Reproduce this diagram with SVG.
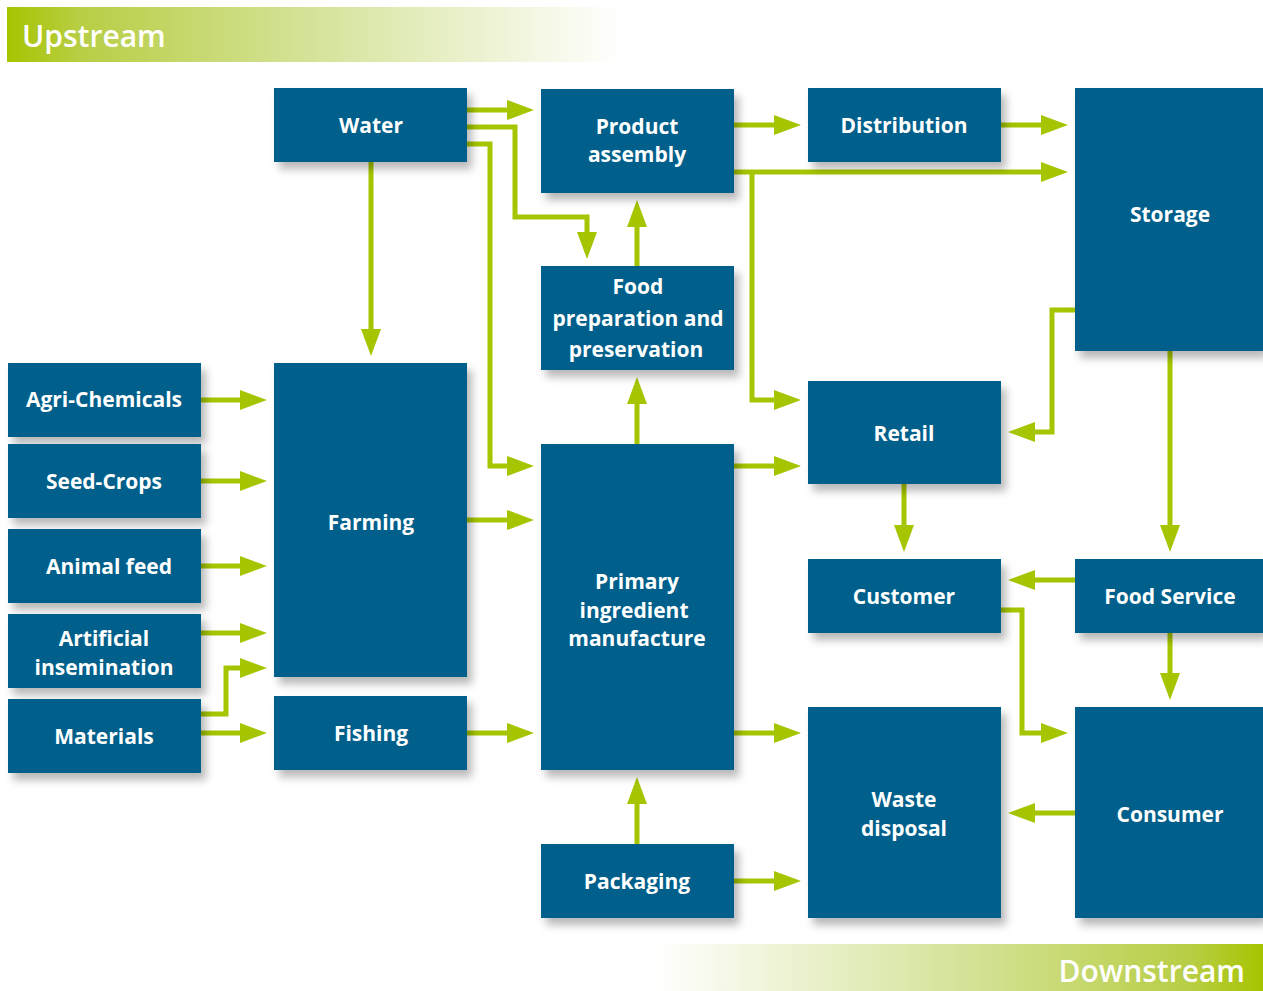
<svg xmlns="http://www.w3.org/2000/svg" width="1263" height="991" viewBox="0 0 1263 991">
<defs>
  <linearGradient id="gUp" x1="0" y1="0" x2="1" y2="0">
    <stop offset="0" stop-color="#A7C400"/>
    <stop offset="0.12" stop-color="#B8CE45"/>
    <stop offset="0.5" stop-color="#D5E39A"/>
    <stop offset="1" stop-color="#FFFFFF"/>
  </linearGradient>
  <linearGradient id="gDown" x1="1" y1="0" x2="0" y2="0">
    <stop offset="0" stop-color="#A7C400"/>
    <stop offset="0.12" stop-color="#B8CE45"/>
    <stop offset="0.5" stop-color="#D5E39A"/>
    <stop offset="1" stop-color="#FFFFFF"/>
  </linearGradient>
  <filter id="sh" x="-20%" y="-20%" width="150%" height="150%">
    <feDropShadow dx="5" dy="7" stdDeviation="4" flood-color="#000" flood-opacity="0.28"/>
  </filter>
  <marker id="ah" markerUnits="userSpaceOnUse" viewBox="0 0 27 20" refX="0" refY="10" markerWidth="27" markerHeight="20" orient="auto">
    <path d="M0,0 L27,10 L0,20 z" fill="#A6C500"/>
  </marker>
</defs>
<style>
  .box { fill:#00608B; filter:url(#sh); }
  .t { fill:#FFFFFF; font-family:"Open Sans","Noto Sans","DejaVu Sans",sans-serif; font-weight:700; font-size:21px; text-anchor:middle; dominant-baseline:central; }
  .ban { fill:#FFFFFF; font-family:"Open Sans","Noto Sans","DejaVu Sans",sans-serif; font-weight:600; font-size:30px; }
  .c { fill:none; stroke:#A6C500; stroke-width:5; marker-end:url(#ah); }
</style>
<g id="banners">
  <rect x="7" y="7" width="614" height="55" fill="url(#gUp)"/>
  <text class="ban" x="22" y="47">Upstream</text>
  <rect x="655" y="944" width="608" height="47" fill="url(#gDown)"/>
  <text class="ban" x="1245" y="982" text-anchor="end">Downstream</text>
</g>
<g id="connectors">
  <path class="c" d="M467,110 H507"/>
  <path class="c" d="M467,127 H515 V217 H587 V232"/>
  <path class="c" d="M467,144 H490 V466 H507"/>
  <path class="c" d="M371,162 V329"/>
  <path class="c" d="M734,125 H774"/>
  <path class="c" d="M1001,125 H1041"/>
  <path class="c" d="M734,172 H1041"/>
  <path class="c" d="M752,172 V400 H774"/>
  <path class="c" d="M637,266 V227"/>
  <path class="c" d="M637,444 V404"/>
  <path class="c" d="M1075,310 H1052 V432 H1035"/>
  <path class="c" d="M1170,351 V525"/>
  <path class="c" d="M734,466 H774"/>
  <path class="c" d="M904,484 V525"/>
  <path class="c" d="M1075,580 H1035"/>
  <path class="c" d="M1001,610 H1022 V733 H1041"/>
  <path class="c" d="M1170,633 V673"/>
  <path class="c" d="M1075,813 H1035"/>
  <path class="c" d="M734,733 H774"/>
  <path class="c" d="M734,881 H774"/>
  <path class="c" d="M637,844 V804"/>
  <path class="c" d="M467,520 H507"/>
  <path class="c" d="M467,733 H507"/>
  <path class="c" d="M201,400 H240"/>
  <path class="c" d="M201,481 H240"/>
  <path class="c" d="M201,566 H240"/>
  <path class="c" d="M201,633 H240"/>
  <path class="c" d="M201,714 H226 V668 H240"/>
  <path class="c" d="M201,733 H240"/>
</g>
<g id="water"><rect class="box" x="274" y="88" width="193" height="74"/><text class="t" x="371" y="125">Water</text></g>
<g id="product-assembly"><rect class="box" x="541" y="89" width="193" height="104"/><text class="t" x="637" y="126">Product</text><text class="t" x="637" y="154">assembly</text></g>
<g id="distribution"><rect class="box" x="808" y="88" width="193" height="74"/><text class="t" x="904" y="125">Distribution</text></g>
<g id="storage"><rect class="box" x="1075" y="88" width="188" height="263"/><text class="t" x="1170" y="214">Storage</text></g>
<g id="food-prep"><rect class="box" x="541" y="266" width="193" height="104"/><text class="t" x="638" y="286">Food</text><text class="t" x="638" y="318">preparation and</text><text class="t" x="636" y="349">preservation</text></g>
<g id="agri-chemicals"><rect class="box" x="8" y="363" width="193" height="74"/><text class="t" x="104" y="399">Agri-Chemicals</text></g>
<g id="seed-crops"><rect class="box" x="8" y="444" width="193" height="74"/><text class="t" x="104" y="481">Seed-Crops</text></g>
<g id="animal-feed"><rect class="box" x="8" y="529" width="193" height="74"/><text class="t" x="109" y="566">Animal feed</text></g>
<g id="artificial-insemination"><rect class="box" x="8" y="614" width="193" height="74"/><text class="t" x="104" y="638">Artificial</text><text class="t" x="104" y="667">insemination</text></g>
<g id="materials"><rect class="box" x="8" y="699" width="193" height="74"/><text class="t" x="104" y="736">Materials</text></g>
<g id="farming"><rect class="box" x="274" y="363" width="193" height="314"/><text class="t" x="371" y="522">Farming</text></g>
<g id="fishing"><rect class="box" x="274" y="696" width="193" height="74"/><text class="t" x="371" y="733">Fishing</text></g>
<g id="primary"><rect class="box" x="541" y="444" width="193" height="326"/><text class="t" x="637" y="581">Primary</text><text class="t" x="634" y="610">ingredient</text><text class="t" x="637" y="638">manufacture</text></g>
<g id="packaging"><rect class="box" x="541" y="844" width="193" height="74"/><text class="t" x="637" y="881">Packaging</text></g>
<g id="retail"><rect class="box" x="808" y="381" width="193" height="103"/><text class="t" x="904" y="433">Retail</text></g>
<g id="customer"><rect class="box" x="808" y="559" width="193" height="74"/><text class="t" x="904" y="596">Customer</text></g>
<g id="food-service"><rect class="box" x="1075" y="559" width="188" height="74"/><text class="t" x="1170" y="596">Food Service</text></g>
<g id="waste-disposal"><rect class="box" x="808" y="707" width="193" height="211"/><text class="t" x="904" y="799">Waste</text><text class="t" x="904" y="828">disposal</text></g>
<g id="consumer"><rect class="box" x="1075" y="707" width="188" height="211"/><text class="t" x="1170" y="814">Consumer</text></g>
</svg>
